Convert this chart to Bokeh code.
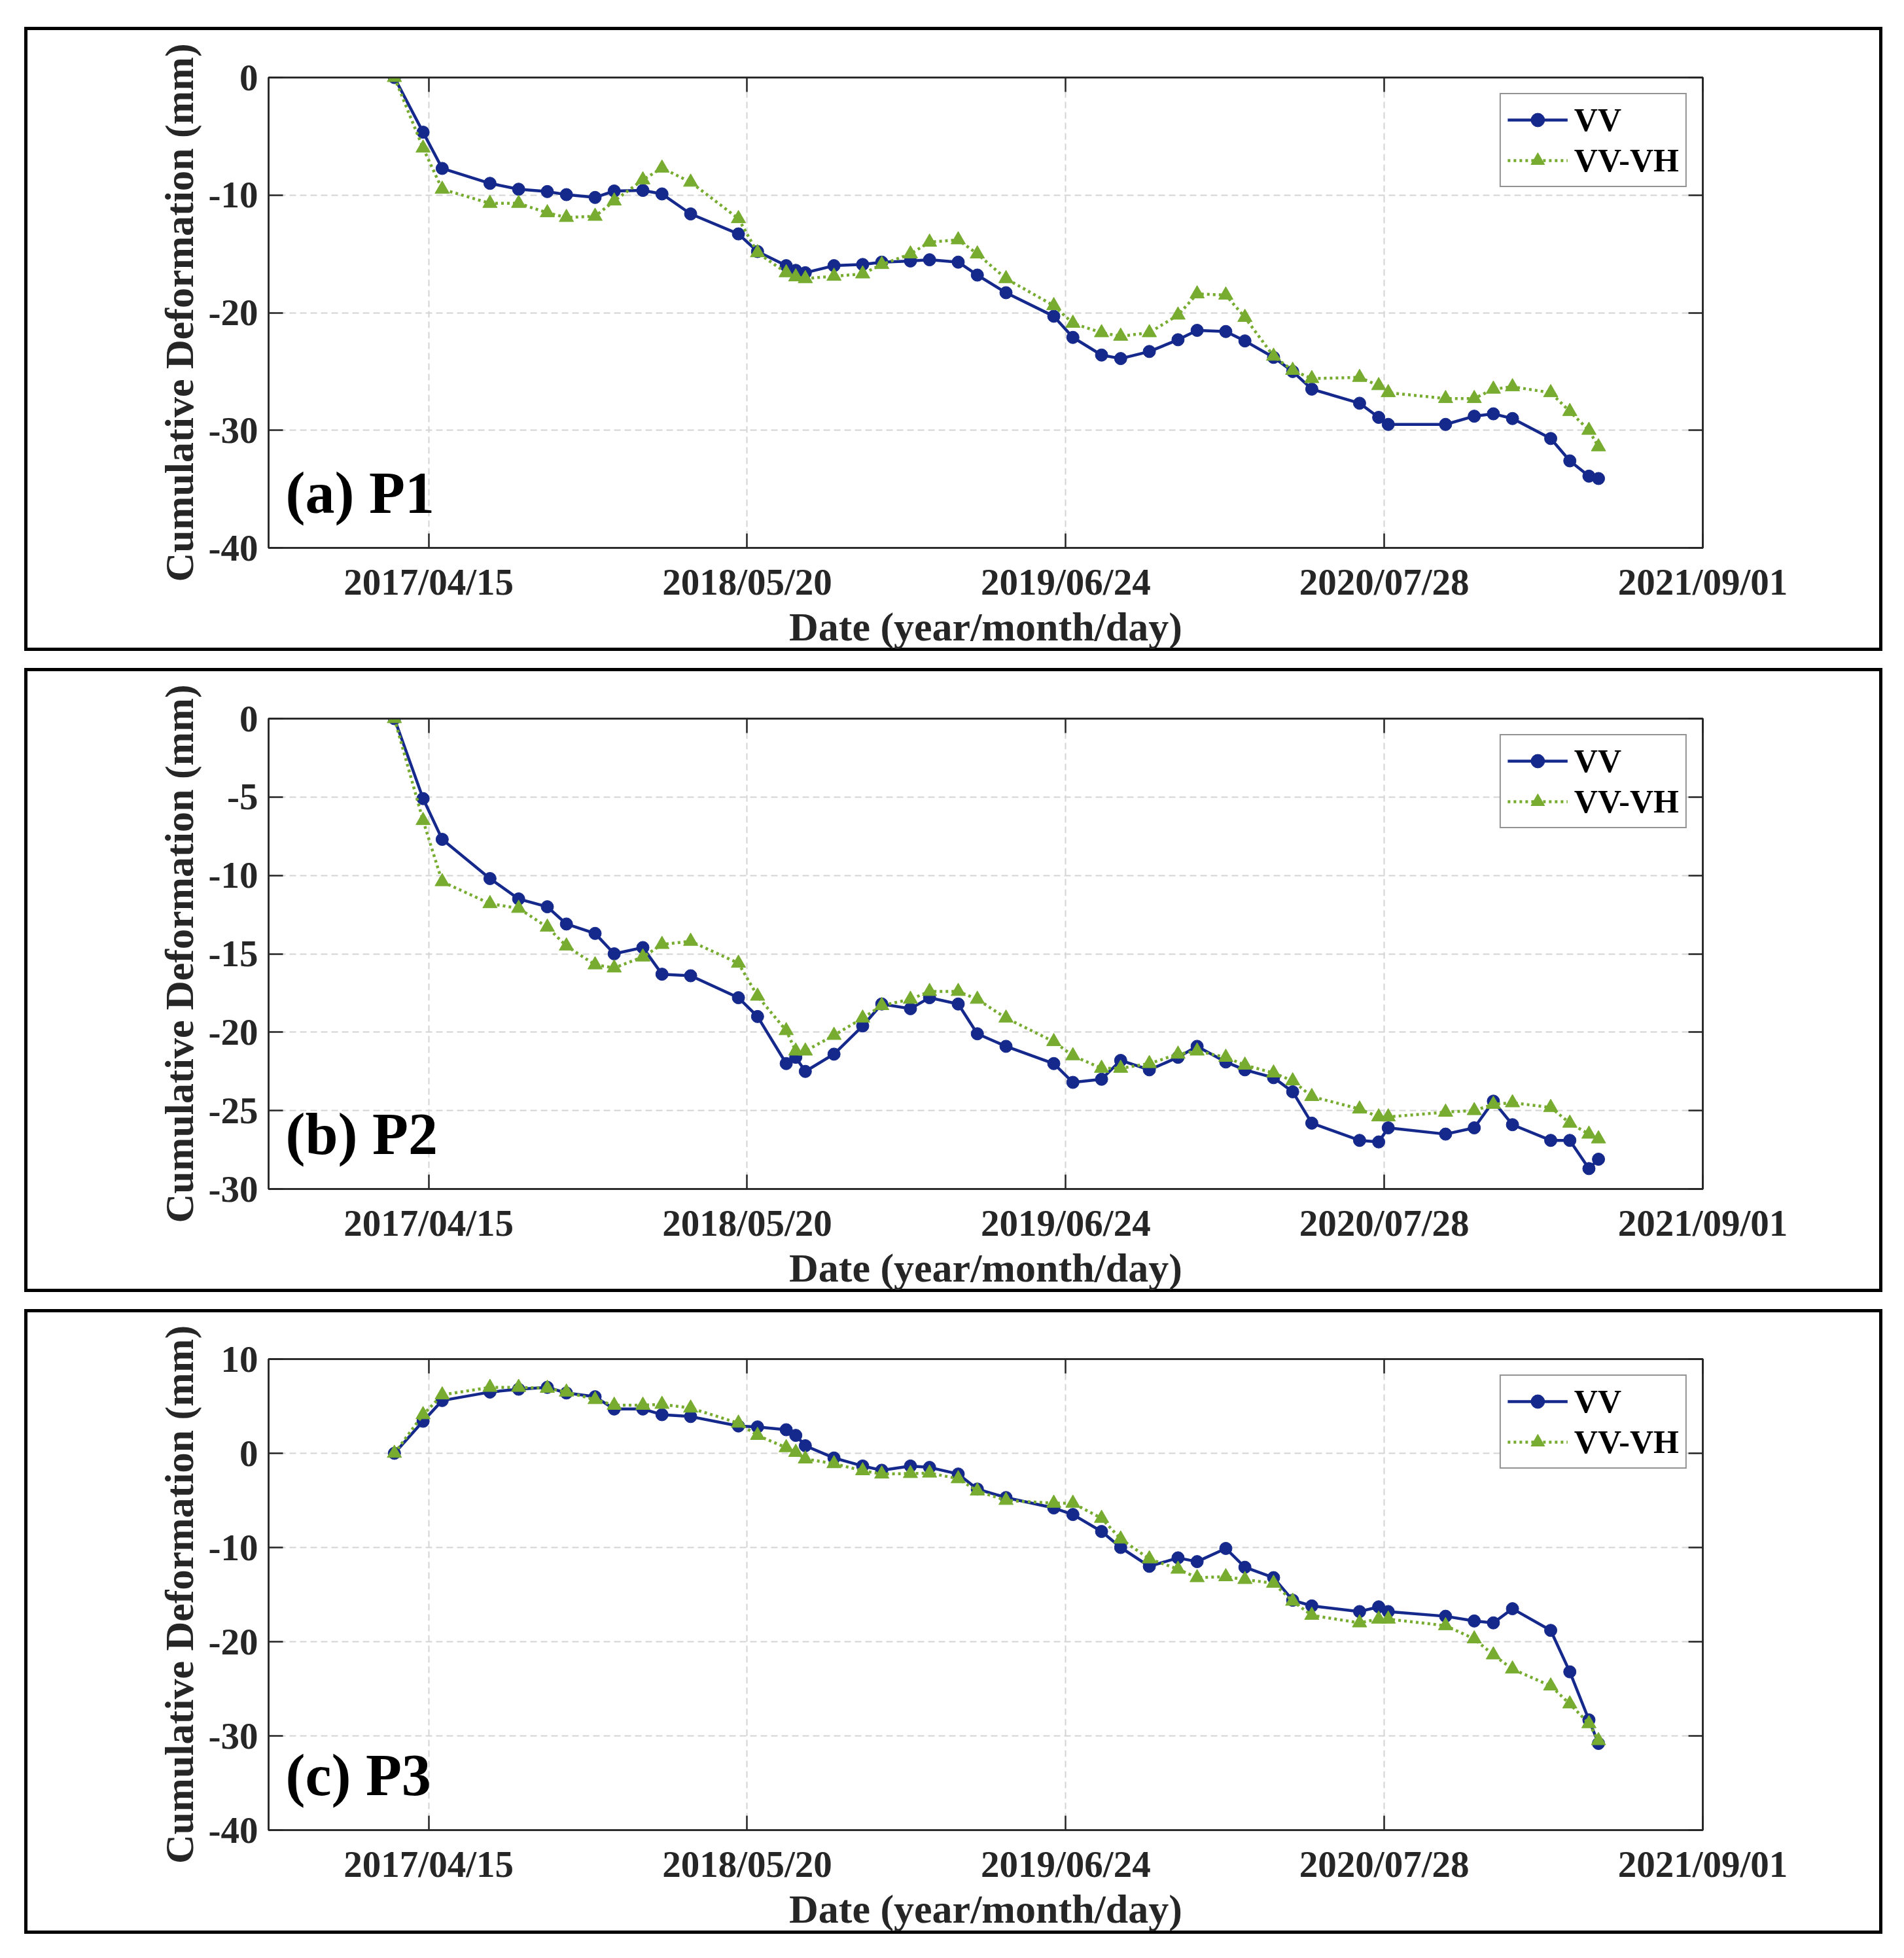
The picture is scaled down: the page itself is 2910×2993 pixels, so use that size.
import pandas as pd
from bokeh.plotting import figure
from bokeh.models import (FixedTicker, LinearAxis, DatetimeAxis, Label,
                          Range1d, DatetimeTickFormatter, PrintfTickFormatter)
from bokeh.layouts import column
from bokeh.embed import file_html
from bokeh.resources import INLINE

# ---------------- data ----------------
dates = ["2017-03-03", "2017-04-08", "2017-05-02", "2017-07-01", "2017-08-06", "2017-09-11",
         "2017-10-05", "2017-11-10", "2017-12-04", "2018-01-09", "2018-02-02", "2018-03-10",
         "2018-05-09", "2018-06-02", "2018-07-08", "2018-07-20", "2018-08-01", "2018-09-06",
         "2018-10-12", "2018-11-05", "2018-12-11", "2019-01-04", "2019-02-09", "2019-03-05",
         "2019-04-10", "2019-06-09", "2019-07-03", "2019-08-08", "2019-09-01", "2019-10-07",
         "2019-11-12", "2019-12-06", "2020-01-11", "2020-02-04", "2020-03-11", "2020-04-04",
         "2020-04-28", "2020-06-27", "2020-07-21", "2020-08-02", "2020-10-13", "2020-11-18",
         "2020-12-12", "2021-01-05", "2021-02-22", "2021-03-18", "2021-04-11", "2021-04-23"]

p1_vv = [0, -4.65, -7.73, -9.0, -9.5, -9.7, -9.96, -10.2, -9.65, -9.6, -9.9, -11.6,
         -13.3, -14.8, -16.0, -16.4, -16.6, -16.0, -15.9, -15.7, -15.6, -15.5, -15.7, -16.8,
         -18.3, -20.3, -22.1, -23.6, -23.9, -23.3, -22.3, -21.5, -21.6, -22.4, -23.8, -25.0,
         -26.5, -27.7, -28.9, -29.5, -29.5, -28.8, -28.6, -29.0, -30.7, -32.6, -33.9, -34.1]
p1_vvvh = [0, -6.0, -9.5, -10.7, -10.7, -11.5, -11.9, -11.8, -10.5, -8.7, -7.7, -8.9,
           -12.0, -14.9, -16.6, -16.95, -17.1, -16.9, -16.7, -15.9, -15.0, -14.0, -13.8, -15.0,
           -17.1, -19.4, -20.9, -21.7, -22.0, -21.7, -20.2, -18.4, -18.5, -20.4, -23.7, -24.9,
           -25.6, -25.5, -26.2, -26.8, -27.3, -27.3, -26.5, -26.3, -26.8, -28.4, -30.0, -31.4]

p2_vv = [0, -5.1, -7.7, -10.2, -11.5, -12.0, -13.1, -13.7, -15.0, -14.6, -16.3, -16.4,
         -17.8, -19.0, -22.0, -21.6, -22.5, -21.4, -19.6, -18.2, -18.5, -17.8, -18.2, -20.1,
         -20.9, -22.0, -23.2, -23.0, -21.8, -22.4, -21.6, -20.9, -21.9, -22.4, -22.9, -23.8,
         -25.8, -26.9, -27.0, -26.1, -26.5, -26.1, -24.4, -25.9, -26.9, -26.9, -28.7, -28.1]
p2_vvvh = [0, -6.5, -10.4, -11.8, -12.1, -13.3, -14.5, -15.7, -15.9, -15.2, -14.4, -14.2,
           -15.6, -17.7, -19.9, -21.2, -21.2, -20.2, -19.1, -18.3, -17.9, -17.4, -17.4, -17.9,
           -19.1, -20.6, -21.5, -22.3, -22.3, -22.0, -21.4, -21.2, -21.6, -22.1, -22.6, -23.1,
           -24.1, -24.9, -25.4, -25.4, -25.1, -25.0, -24.6, -24.5, -24.8, -25.8, -26.5, -26.8]

p3_vv = [0, 3.4, 5.6, 6.5, 6.8, 7.0, 6.4, 6.0, 4.7, 4.7, 4.1, 3.9,
         2.9, 2.8, 2.5, 1.9, 0.8, -0.5, -1.35, -1.8, -1.35, -1.5, -2.2, -3.8,
         -4.7, -5.8, -6.5, -8.3, -10.0, -12.0, -11.1, -11.5, -10.1, -12.1, -13.2, -15.6,
         -16.2, -16.8, -16.3, -16.8, -17.3, -17.8, -18.0, -16.5, -18.8, -23.2, -28.3, -30.8]
p3_vvvh = [0, 4.1, 6.2, 7.0, 7.0, 6.9, 6.5, 5.7, 5.1, 5.1, 5.2, 4.8,
           3.2, 1.9, 0.6, 0.1, -0.6, -1.1, -1.85, -2.2, -2.15, -2.1, -2.7, -4.0,
           -5.0, -5.3, -5.3, -6.9, -9.1, -11.2, -12.3, -13.2, -13.1, -13.4, -13.8, -15.7,
           -17.2, -18.0, -17.6, -17.6, -18.3, -19.7, -21.4, -22.9, -24.7, -26.6, -28.7, -30.5]

x_tick_dates = ["2017-04-15", "2018-05-20", "2019-06-24", "2020-07-28", "2021-09-01"]
x_tick_labels = ["2017/04/15", "2018/05/20", "2019/06/24", "2020/07/28", "2021/09/01"]
x_limits = ["2016-09-26", "2021-09-01"]

p1_yticks = [-40, -30, -20, -10, 0]
p2_yticks = [-30, -25, -20, -15, -10, -5, 0]
p3_yticks = [-40, -30, -20, -10, 0, 10]

panel_labels = ["(a) P1", "(b) P2", "(c) P3"]
series_names = ["VV", "VV-VH"]

# ---------------- style ----------------
FONT = "Liberation Serif"
BLUE = "#15298C"
GREEN = "#77AC30"
AXC = "#262626"
W = 2866
FRAME_W = 2192
FRAME_H = 719


def ms(s):
    return float(pd.Timestamp(s).value // 10**6)


x_dt = pd.to_datetime(dates)
xt = [ms(d) for d in x_tick_dates]
x0, x1 = ms(x_limits[0]), ms(x_limits[1])


def make_panel(vv, vvvh, yticks, label, H, mt, mb, top_margin):
    ymin, ymax = yticks[0], yticks[-1]
    p = figure(width=W, height=H, x_axis_type="datetime",
               x_range=Range1d(x0, x1), y_range=Range1d(ymin, ymax),
               output_backend="svg", toolbar_location=None,
               min_border_left=386, min_border_right=288,
               min_border_top=mt, min_border_bottom=mb,
               background_fill_color="white",
               border_fill_color=None, border_fill_alpha=0,
               margin=(top_margin, 0, 0, 24))
    # outer panel box: drawn by the page round the figure, seen through the
    # transparent border area of the canvas
    p.styles = {"outline": "5px solid black", "outline-offset": "-18px"}
    p.outline_line_color = AXC
    p.outline_line_width = 2.5

    # bottom (date) axis
    xa = p.xaxis[0]
    xa.ticker = FixedTicker(ticks=xt)
    fmt = "%Y/%m/%d"
    xa.formatter = DatetimeTickFormatter(microseconds=fmt, milliseconds=fmt, seconds=fmt,
                                         minsec=fmt, minutes=fmt, hourmin=fmt, hours=fmt,
                                         days=fmt, months=fmt, years=fmt)
    xa.major_label_overrides = {t: lab for t, lab in zip(xt, x_tick_labels)}
    xa.axis_label = "Date (year/month/day)"
    xa.axis_label_standoff = 0
    xa.major_label_standoff = 20

    ya = p.yaxis[0]
    ya.ticker = FixedTicker(ticks=yticks)
    ya.formatter = PrintfTickFormatter(format="%d")
    ya.axis_label = "Cumulative Deformation (mm)"
    ya.axis_label_standoff = 8
    ya.major_label_standoff = 16

    for ax in (xa, ya):
        ax.axis_label_text_font = FONT
        ax.axis_label_text_font_style = "bold"
        ax.axis_label_text_font_size = "62px"
        ax.axis_label_text_color = AXC
        ax.major_label_text_font = FONT
        ax.major_label_text_font_style = "bold"
        ax.major_label_text_font_size = "57px"
        ax.major_label_text_color = AXC
        ax.major_tick_in = 22
        ax.major_tick_out = 0
        ax.major_tick_line_color = AXC
        ax.major_tick_line_width = 2.5
        ax.minor_tick_line_color = None
        ax.axis_line_color = AXC
        ax.axis_line_width = 2.5

    # mirrored ticks (top and right), no labels
    top = DatetimeAxis(ticker=FixedTicker(ticks=xt),
                       major_label_overrides={t: "" for t in xt})
    right = LinearAxis(ticker=FixedTicker(ticks=yticks),
                       major_label_overrides={float(t): "" for t in yticks})
    for ax in (top, right):
        ax.major_tick_in = 22
        ax.major_tick_out = 0
        ax.major_tick_line_color = AXC
        ax.major_tick_line_width = 2.5
        ax.minor_tick_line_color = None
        ax.axis_line_color = AXC
        ax.axis_line_width = 2.5
        ax.major_label_text_font_size = "10px"
    p.add_layout(top, "above")
    p.add_layout(right, "right")

    # grid
    for g in (p.xgrid[0], p.ygrid[0]):
        g.grid_line_color = "#d4d4d4"
        g.grid_line_dash = "10 6"
        g.grid_line_width = 2

    # data
    p.line(x_dt, vv, line_color=BLUE, line_width=4.5, legend_label=series_names[0])
    p.scatter(x_dt, vv, marker="circle", size=19, fill_color=BLUE, line_color=BLUE,
              legend_label=series_names[0])
    p.line(x_dt, vvvh, line_color=GREEN, line_width=4.5, line_dash="4 5",
           legend_label=series_names[1])
    p.scatter(x_dt, vvvh, marker="triangle", size=22, fill_color=GREEN, line_color=GREEN,
              legend_label=series_names[1])

    lg = p.legend[0]
    lg.location = "top_right"
    lg.margin = 24
    lg.label_text_font = FONT
    lg.label_text_font_style = "bold"
    lg.label_text_font_size = "50px"
    lg.label_text_color = "black"
    lg.glyph_width = 92
    lg.glyph_height = 52
    lg.label_height = 52
    lg.label_standoff = 10
    lg.padding = 10
    lg.spacing = 4
    lg.border_line_color = AXC
    lg.border_line_width = 2
    lg.background_fill_color = "white"
    lg.background_fill_alpha = 1.0

    # panel label, placed relative to the frame
    lx = x0 + 26 * (x1 - x0) / FRAME_W
    ly = ymax - 635 / FRAME_H * (ymax - ymin)
    p.add_layout(Label(x=lx, y=ly, text=label, text_font=FONT, text_font_style="bold",
                       text_font_size="90px", text_color="black",
                       text_baseline="alphabetic", text_align="left"))
    return p


f1 = make_panel(p1_vv, p1_vvvh, p1_yticks, panel_labels[0], 980, 90, 171, 28)
f2 = make_panel(p2_vv, p2_vvvh, p2_yticks, panel_labels[1], 980, 90, 171, 0)
f3 = make_panel(p3_vv, p3_vvvh, p3_yticks, panel_labels[2], 981, 89, 172, 0)

layout = column(f1, f2, f3, spacing=0)
open("out.html", "w").write(file_html(layout, INLINE))
